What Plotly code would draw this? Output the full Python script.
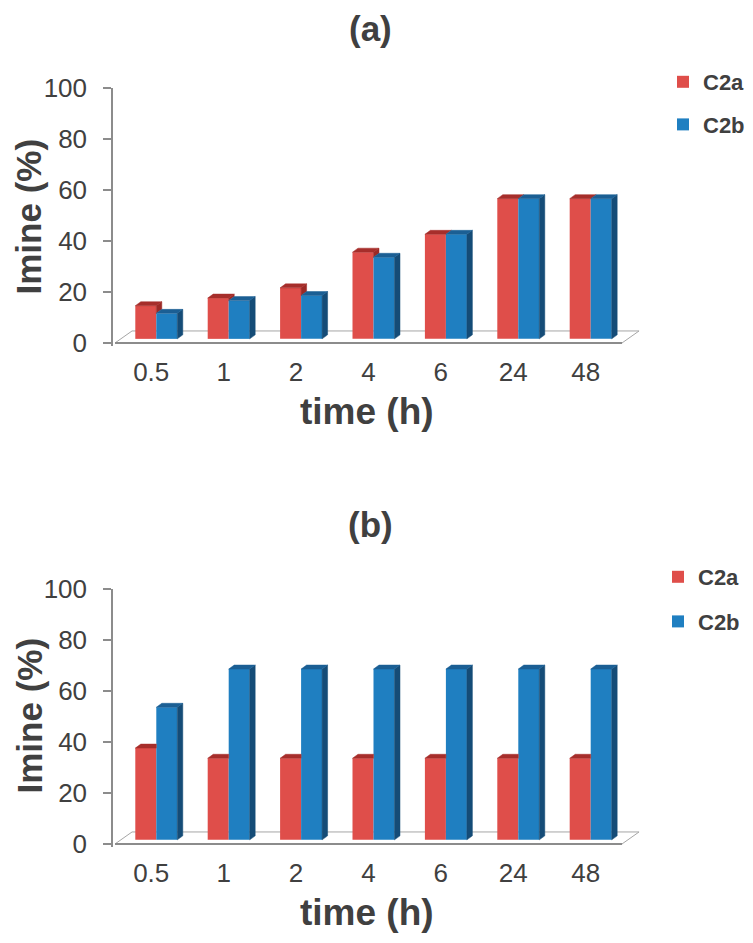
import plotly.graph_objects as go

# ---------------- data ----------------
categories = ["0.5", "1", "2", "4", "6", "24", "48"]
a_c2a = [13, 16, 20, 34, 41, 55, 55]
a_c2b = [10, 15, 17, 32, 41, 55, 55]
b_c2a = [36, 32, 32, 32, 32, 32, 32]
b_c2b = [52, 67, 67, 67, 67, 67, 67]
series_names = ["C2a", "C2b"]
panel_titles = ["(a)", "(b)"]
x_title = "time (h)"
y_title = "Imine (%)"
y_ticks = [0, 20, 40, 60, 80, 100]

# ---------------- style / geometry ----------------
W = 0.29          # bar width (category units)
OFF_A = -0.22     # left edge offset of C2a
OFF_B = 0.07      # left edge offset of C2b
DX = 0.076        # 3D depth offset (x units)
DY = 1.57         # 3D depth offset (value units)
BASE = 1.6        # bar base (bars stand on the 3D floor)
FDX, FDY = 0.235, 4.7   # floor depth
RED, RED_TOP, RED_SIDE = "#DF4E4A", "#A62E2B", "#9C2926"
BLUE, BLUE_TOP, BLUE_SIDE = "#1F7FC1", "#1B5F94", "#154C77"
TXT = "#404040"
AX = "#8C8C8C"
FONT = "Liberation Sans, Arial, sans-serif"

PAGE_OFF = 8                      # default body margin of the html page
FIG_W, FIG_H = 753 - PAGE_OFF, 943 - PAGE_OFF


def pxx(p):
    return (p - PAGE_OFF) / FIG_W


def pxy(p):
    return 1 - (p - PAGE_OFF) / FIG_H


X_DOM = [pxx(113), pxx(640)]
X_RANGE = [-0.528, 6.751]
Y_RANGE = [-1.2, 100]
Y_DOMS = [[pxy(346), pxy(88)], [pxy(847), pxy(589)]]

fig = go.Figure()
xs = list(range(len(categories)))


def poly_trace(xpts, ypts, color, xa, ya):
    return go.Scatter(x=xpts, y=ypts, mode="lines", fill="toself", fillcolor=color,
                      line=dict(color=color, width=0.5), hoverinfo="skip",
                      showlegend=False, xaxis=xa, yaxis=ya)


panels = [(a_c2a, a_c2b), (b_c2a, b_c2b)]
for p, (va_list, vb_list) in enumerate(panels):
    sfx = "" if p == 0 else "2"
    xa, ya = "x" + sfx, "y" + sfx
    leg = "legend" if p == 0 else "legend2"

    fig.add_trace(go.Bar(x=xs, y=va_list, base=BASE, width=W, offset=OFF_A,
                         marker=dict(color=RED, line=dict(width=0)), name=series_names[0],
                         legend=leg, legendgroup=f"a{p}", xaxis=xa, yaxis=ya, hoverinfo="y"))
    fig.add_trace(go.Bar(x=xs, y=vb_list, base=BASE, width=W, offset=OFF_B,
                         marker=dict(color=BLUE, line=dict(width=0)), name=series_names[1],
                         legend=leg, legendgroup=f"b{p}", xaxis=xa, yaxis=ya, hoverinfo="y"))

    # 3D faces computed from the data
    rs_x, rs_y, rt_x, rt_y, bs_x, bs_y, bt_x, bt_y = ([] for _ in range(8))
    for i, (va, vb) in enumerate(zip(va_list, vb_list)):
        xl = i + OFF_A
        xr = xl + W
        ta, tb = BASE + va, BASE + vb
        if va >= vb:
            rt_x += [xl, xr, xr + DX, xl + DX, xl, None]
            rt_y += [ta, ta, ta + DY, ta + DY, ta, None]
            if va > vb:
                rs_x += [xr, xr + DX, xr + DX, xr, xr, None]
                rs_y += [tb, tb + DY, ta + DY, ta, tb, None]
        else:
            rt_x += [xl, xr, xr, xl + DX, xl, None]
            rt_y += [ta, ta, ta + DY, ta + DY, ta, None]
        bl = i + OFF_B
        br = bl + W
        bs_x += [br, br + DX, br + DX, br, br, None]
        bs_y += [BASE, BASE + DY, tb + DY, tb, BASE, None]
        bt_x += [bl, br, br + DX, bl + DX, bl, None]
        bt_y += [tb, tb, tb + DY, tb + DY, tb, None]

    fig.add_trace(poly_trace(rs_x, rs_y, RED_SIDE, xa, ya))
    fig.add_trace(poly_trace(rt_x, rt_y, RED_TOP, xa, ya))
    fig.add_trace(poly_trace(bs_x, bs_y, BLUE_SIDE, xa, ya))
    fig.add_trace(poly_trace(bt_x, bt_y, BLUE_TOP, xa, ya))

    # floor of the 3D chart
    x0, x1 = -0.5, len(categories) - 0.497
    fig.add_shape(type="path", xref=xa, yref=ya, layer="below",
                  path=f"M {x0},0 L {x1},0 L {x1 + FDX},{FDY} L {x0 + FDX},{FDY} Z",
                  fillcolor="white", line=dict(color="#A6A6A6", width=1))
    fig.add_shape(type="line", xref=xa, yref=ya, layer="below",
                  x0=x0, y0=0, x1=x1, y1=0, line=dict(color=AX, width=2))

    fig.update_layout(**{
        "xaxis" + sfx: dict(domain=X_DOM, range=X_RANGE, anchor=ya, tickvals=xs,
                            ticktext=categories, showline=False, ticks="", showgrid=False,
                            zeroline=False, tickfont=dict(size=26, color=TXT, family=FONT),
                            ticklabelstandoff=8, fixedrange=True, automargin=False),
        "yaxis" + sfx: dict(domain=Y_DOMS[p], range=Y_RANGE, anchor=xa, tickvals=y_ticks,
                            ticks="outside", ticklen=8, tickcolor=AX, tickwidth=1.5,
                            showline=True, linecolor=AX, linewidth=1.5, showgrid=False,
                            zeroline=False, tickfont=dict(size=26, color=TXT, family=FONT),
                            ticklabelstandoff=11, fixedrange=True, automargin=False),
    })

# titles
title_font = dict(size=35, color=TXT, family=FONT, weight="bold")
axis_font = dict(size=37, color=TXT, family=FONT, weight="bold")
yt_font = dict(size=35, color=TXT, family=FONT, weight="bold")
ann = []
for p, (ty, xy, yy) in enumerate([(8, 411, 217), (504, 912, 716)]):
    ann.append(dict(text=panel_titles[p], x=pxx(370), y=pxy(ty), xref="paper",
                    yref="paper", showarrow=False, xanchor="center", yanchor="top",
                    font=title_font, borderpad=0))
    ann.append(dict(text=x_title, x=pxx(367), y=pxy(xy), xref="paper",
                    yref="paper", showarrow=False, xanchor="center", yanchor="middle",
                    font=axis_font))
    ann.append(dict(text=y_title, x=pxx(8), y=pxy(yy), xref="paper",
                    yref="paper", showarrow=False, xanchor="left", yanchor="middle",
                    textangle=-90, font=yt_font, borderpad=0))

leg_font = dict(size=22, color=TXT, family=FONT, weight="bold")
fig.update_layout(
    width=FIG_W, height=FIG_H,
    margin=dict(l=0, r=0, t=0, b=0),
    paper_bgcolor="white", plot_bgcolor="white",
    barmode="overlay",
    annotations=ann,
    legend=dict(x=pxx(663), y=pxy(61), xanchor="left", yanchor="top",
                font=leg_font, tracegroupgap=11, bgcolor="rgba(0,0,0,0)", traceorder="grouped"),
    legend2=dict(x=pxx(658), y=pxy(556), xanchor="left", yanchor="top",
                 font=leg_font, tracegroupgap=13, bgcolor="rgba(0,0,0,0)", traceorder="grouped"),
    showlegend=True,
)

fig.write_html("out.html", config={"displayModeBar": False})
